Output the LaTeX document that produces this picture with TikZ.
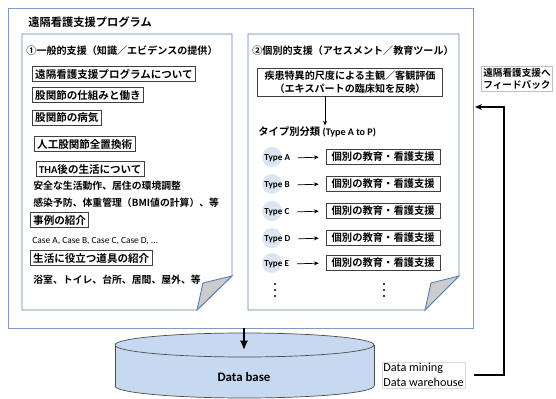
\documentclass[tikz,border=0pt]{standalone}
\usepackage{fontspec}
\setmainfont{Carlito}
\newfontfamily\jp{Noto Sans CJK JP}[BoldFont={Noto Sans CJK JP Bold}]
\usetikzlibrary{arrows.meta}
\definecolor{panelblue}{HTML}{5B83B8}
\definecolor{dbfill}{HTML}{C6D9F0}
\definecolor{typefill}{HTML}{DCE6F2}

\begin{document}
\begin{tikzpicture}[x=0.03cm,y=-0.03cm,
    jptext/.style={anchor=west,inner sep=1pt,font=\jp\bfseries\fontsize{8.4}{10.5}\selectfont},
    itembox/.style={jptext,draw=black!75,line width=0.7pt,inner sep=2.4pt,font=\jp\bfseries\fontsize{9}{10.5}\selectfont},
    carebox/.style={itembox,font=\jp\bfseries\fontsize{8.8}{10}\selectfont,inner xsep=4.5pt},
    panel/.style={draw=panelblue,line width=0.8pt,fill=white},
    fold/.style={draw=panelblue,line width=0.8pt,fill=black!20},
    typedot/.style={circle,fill=typefill,minimum size=0.6cm,inner sep=0pt},
    arr/.style={-{Stealth[length=4pt,width=3.5pt]},line width=0.6pt}]
    \useasboundingbox (0,0) rectangle (556,399);
    % frames
    \draw[panelblue!80,line width=0.7pt,fill=white] (8,8) rectangle (473,328);
    \draw[panel] (22,34) -- (232,34) -- (232,276) -- (197,310) -- (22,310) -- cycle;
    \draw[fold] (197,310) -- (203,283) -- (232,276) -- cycle;
    \draw[panel] (248,34) -- (459,34) -- (459,276) -- (425,310) -- (248,310) -- cycle;
    \draw[fold] (425,310) -- (431,283) -- (459,276) -- cycle;
    \coordinate (progbot) at (244,328);
    \coordinate (fbin) at (475,107);
    \coordinate (fbcorner) at (504,107);
    % database
    \fill[dbfill] (115,345) rectangle (374,386);
    \fill[dbfill] (244.5,386) ellipse [x radius=129.5,y radius=12];
    \begin{scope}
        \clip (100,386) rectangle (390,399);
        \draw[black!70,line width=0.6pt] (244.5,386) ellipse [x radius=129.5,y radius=12];
    \end{scope}
    \draw[black!70,line width=0.6pt] (115,345) -- (115,386) (374,345) -- (374,386);
    \draw[black!70,line width=0.6pt,fill=dbfill] (244.5,345) ellipse [x radius=129.5,y radius=12];
    \coordinate (dbtop) at (244,350);
    % nodes
    \node (title) at (27,22) [jptext,font=\jp\bfseries\fontsize{9.6}{11}\selectfont] {遠隔看護支援プログラム};
    \node (general) at (25,51) [jptext,font=\jp\bfseries\fontsize{8.6}{10.5}\selectfont] {①一般的支援（知識／エビデンスの提供）};
    \node (g1) at (32,74) [itembox] {遠隔看護支援プログラムについて};
    \node (g2) at (32,95) [itembox] {股関節の仕組みと働き};
    \node (g3) at (32,118) [itembox] {股関節の病気};
    \node (g4) at (34,144) [itembox] {人工股関節全置換術};
    \node (g5) at (36,169) [itembox] {{\rmfamily\bfseries THA}後の生活について};
    \node (g5a) at (32,186) [jptext] {安全な生活動作、居住の環境調整};
    \node (g5b) at (32,203) [jptext] {感染予防、体重管理（BMI値の計算）、等};
    \node (g6) at (30,220) [itembox] {事例の紹介};
    \node (g6a) at (31,241) [anchor=west,inner sep=1pt,font=\fontsize{8}{9}\selectfont] {Case A, Case B, Case C, Case D, ...};
    \node (g7) at (30,258) [itembox] {生活に役立つ道具の紹介};
    \node (g7a) at (32,280) [jptext] {浴室、トイレ、台所、居間、屋外、等};
    \node (indiv) at (251,51) [jptext,font=\jp\bfseries\fontsize{8.6}{10.5}\selectfont] {②個別的支援（アセスメント／教育ツール）};
    \node (eval) at (350,82) [itembox,anchor=center,align=center,minimum width=5.55cm,font=\jp\bfseries\fontsize{8.6}{11}\selectfont] {疾患特異的尺度による主観／客観評価\\（エキスパートの臨床知を反映）};
    \node (typehdr) at (257,132) [jptext,font=\jp\bfseries\fontsize{8.8}{10.5}\selectfont] {タイプ別分類 {\rmfamily\bfseries\fontsize{8.6}{9}\selectfont(Type A to P)}};
    \foreach \t/\y in {A/157,B/184,C/211,D/238,E/263}{
        \node (dot\t) at (272,\y) [typedot] {};
        \node (type\t) at (263,\y+1) [anchor=west,inner sep=1pt,font=\bfseries\fontsize{7.8}{9}\selectfont] {Type \t};
        \node (care\t) at (326,\y) [carebox] {個別の教育・看護支援};
        \draw[arr,shorten <=0.2cm,shorten >=0.22cm] (type\t.east) -- (care\t.west);
    }
    % more rows
    \foreach \x in {275,384}
        \foreach \y in {284,290,296}
            \fill (\x,\y) circle [radius=1.2];
    \node (feedback) at (517,79) [draw=black!25,line width=0.4pt,align=center,inner sep=1.5pt,font=\jp\bfseries\fontsize{8.2}{10.5}\selectfont] {遠隔看護支援へ\\フィードバック};
    \node (mining) at (382,375) [anchor=west,draw=black!15,line width=0.4pt,align=left,inner sep=1pt,font=\fontsize{10.4}{12.6}\selectfont] {Data mining\\Data warehouse};
    \node (dbase) at (244,377) [font=\bfseries\fontsize{11}{13}\selectfont] {Data base};
    % paths
    \draw[arr] ([xshift=-0.75cm]eval.south) -- ([xshift=-0.75cm]eval.south |- typehdr.north);
    \draw[-{Latex[length=8pt,width=7pt]},line width=1.4pt] (progbot) -- (dbtop);
    \draw[-{Stealth[length=6pt,width=5pt]},line width=1pt,shorten <=0.27cm] (mining.east) -| (fbcorner) -- (fbin);
\end{tikzpicture}
\end{document}
